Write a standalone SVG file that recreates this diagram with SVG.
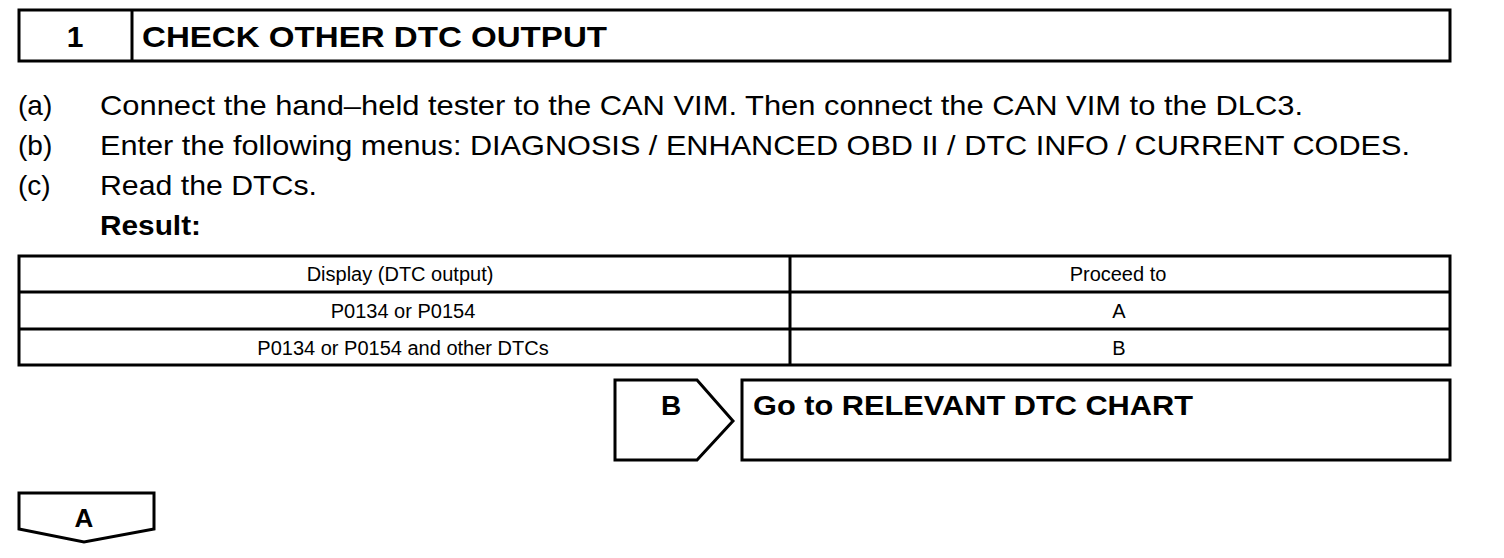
<svg xmlns="http://www.w3.org/2000/svg" width="1504" height="558" viewBox="0 0 1504 558">
  <style>
    .box { fill: #fff; stroke: #000; stroke-width: 3; }
    .ln { stroke: #000; stroke-width: 3; fill: none; }
    .hd { font-family: "Liberation Sans", Arial, sans-serif; font-weight: bold; font-size: 30px; fill: #000; }
    .bd { font-family: "Liberation Sans", Arial, sans-serif; font-size: 28px; fill: #000; }
    .bb { font-family: "Liberation Sans", Arial, sans-serif; font-size: 28px; font-weight: bold; fill: #000; }
    .tb { font-family: "Liberation Sans", Arial, sans-serif; font-size: 20px; fill: #000; text-anchor: middle; }
  </style>
  <rect width="1504" height="558" fill="#fff"/>

  <g id="header">
    <rect class="box" x="19" y="10" width="1431" height="51"/>
    <line class="ln" x1="132" y1="10" x2="132" y2="61"/>
    <text class="hd" x="75" y="46.5" text-anchor="middle">1</text>
    <text class="hd" x="142" y="46.5" textLength="465" lengthAdjust="spacingAndGlyphs">CHECK OTHER DTC OUTPUT</text>
  </g>

  <g id="steps">
    <text class="bd" x="18" y="114.5">(a)</text>
    <text class="bd" x="100" y="114.5" textLength="1203" lengthAdjust="spacingAndGlyphs">Connect the hand–held tester to the CAN VIM. Then connect the CAN VIM to the DLC3.</text>
    <text class="bd" x="18" y="154.5">(b)</text>
    <text class="bd" x="100" y="154.5" textLength="1310" lengthAdjust="spacingAndGlyphs">Enter the following menus: DIAGNOSIS / ENHANCED OBD II / DTC INFO / CURRENT CODES.</text>
    <text class="bd" x="18" y="194.5">(c)</text>
    <text class="bd" x="100" y="194.5" textLength="217" lengthAdjust="spacingAndGlyphs">Read the DTCs.</text>
    <text class="bb" x="100" y="234.5" textLength="101" lengthAdjust="spacingAndGlyphs">Result:</text>
  </g>

  <g id="result-table">
    <rect class="box" x="19" y="256" width="1431" height="109"/>
    <line class="ln" x1="19" y1="292" x2="1450" y2="292"/>
    <line class="ln" x1="19" y1="329" x2="1450" y2="329"/>
    <line class="ln" x1="790" y1="256" x2="790" y2="365"/>
    <text class="tb" x="400" y="281">Display (DTC output)</text>
    <text class="tb" x="1118" y="281">Proceed to</text>
    <text class="tb" x="403" y="318">P0134 or P0154</text>
    <text class="tb" x="1119" y="318">A</text>
    <text class="tb" x="403" y="355">P0134 or P0154 and other DTCs</text>
    <text class="tb" x="1119" y="355">B</text>
  </g>

  <g id="node-b">
    <path class="box" d="M615,380 L697,380 L733,421 L697,460 L615,460 Z"/>
    <text class="bb" x="671" y="414.5" text-anchor="middle">B</text>
  </g>

  <g id="node-relevant">
    <rect class="box" x="742" y="380" width="708" height="80"/>
    <text class="bb" x="753" y="414.5" textLength="440" lengthAdjust="spacingAndGlyphs">Go to RELEVANT DTC CHART</text>
  </g>

  <g id="node-a">
    <path class="box" d="M19,493 L154,493 L154,529 L84,542 L19,529 Z"/>
    <text class="bb" x="84" y="527" text-anchor="middle" style="font-size:26px">A</text>
  </g>

  <g id="connectors"></g>
</svg>
